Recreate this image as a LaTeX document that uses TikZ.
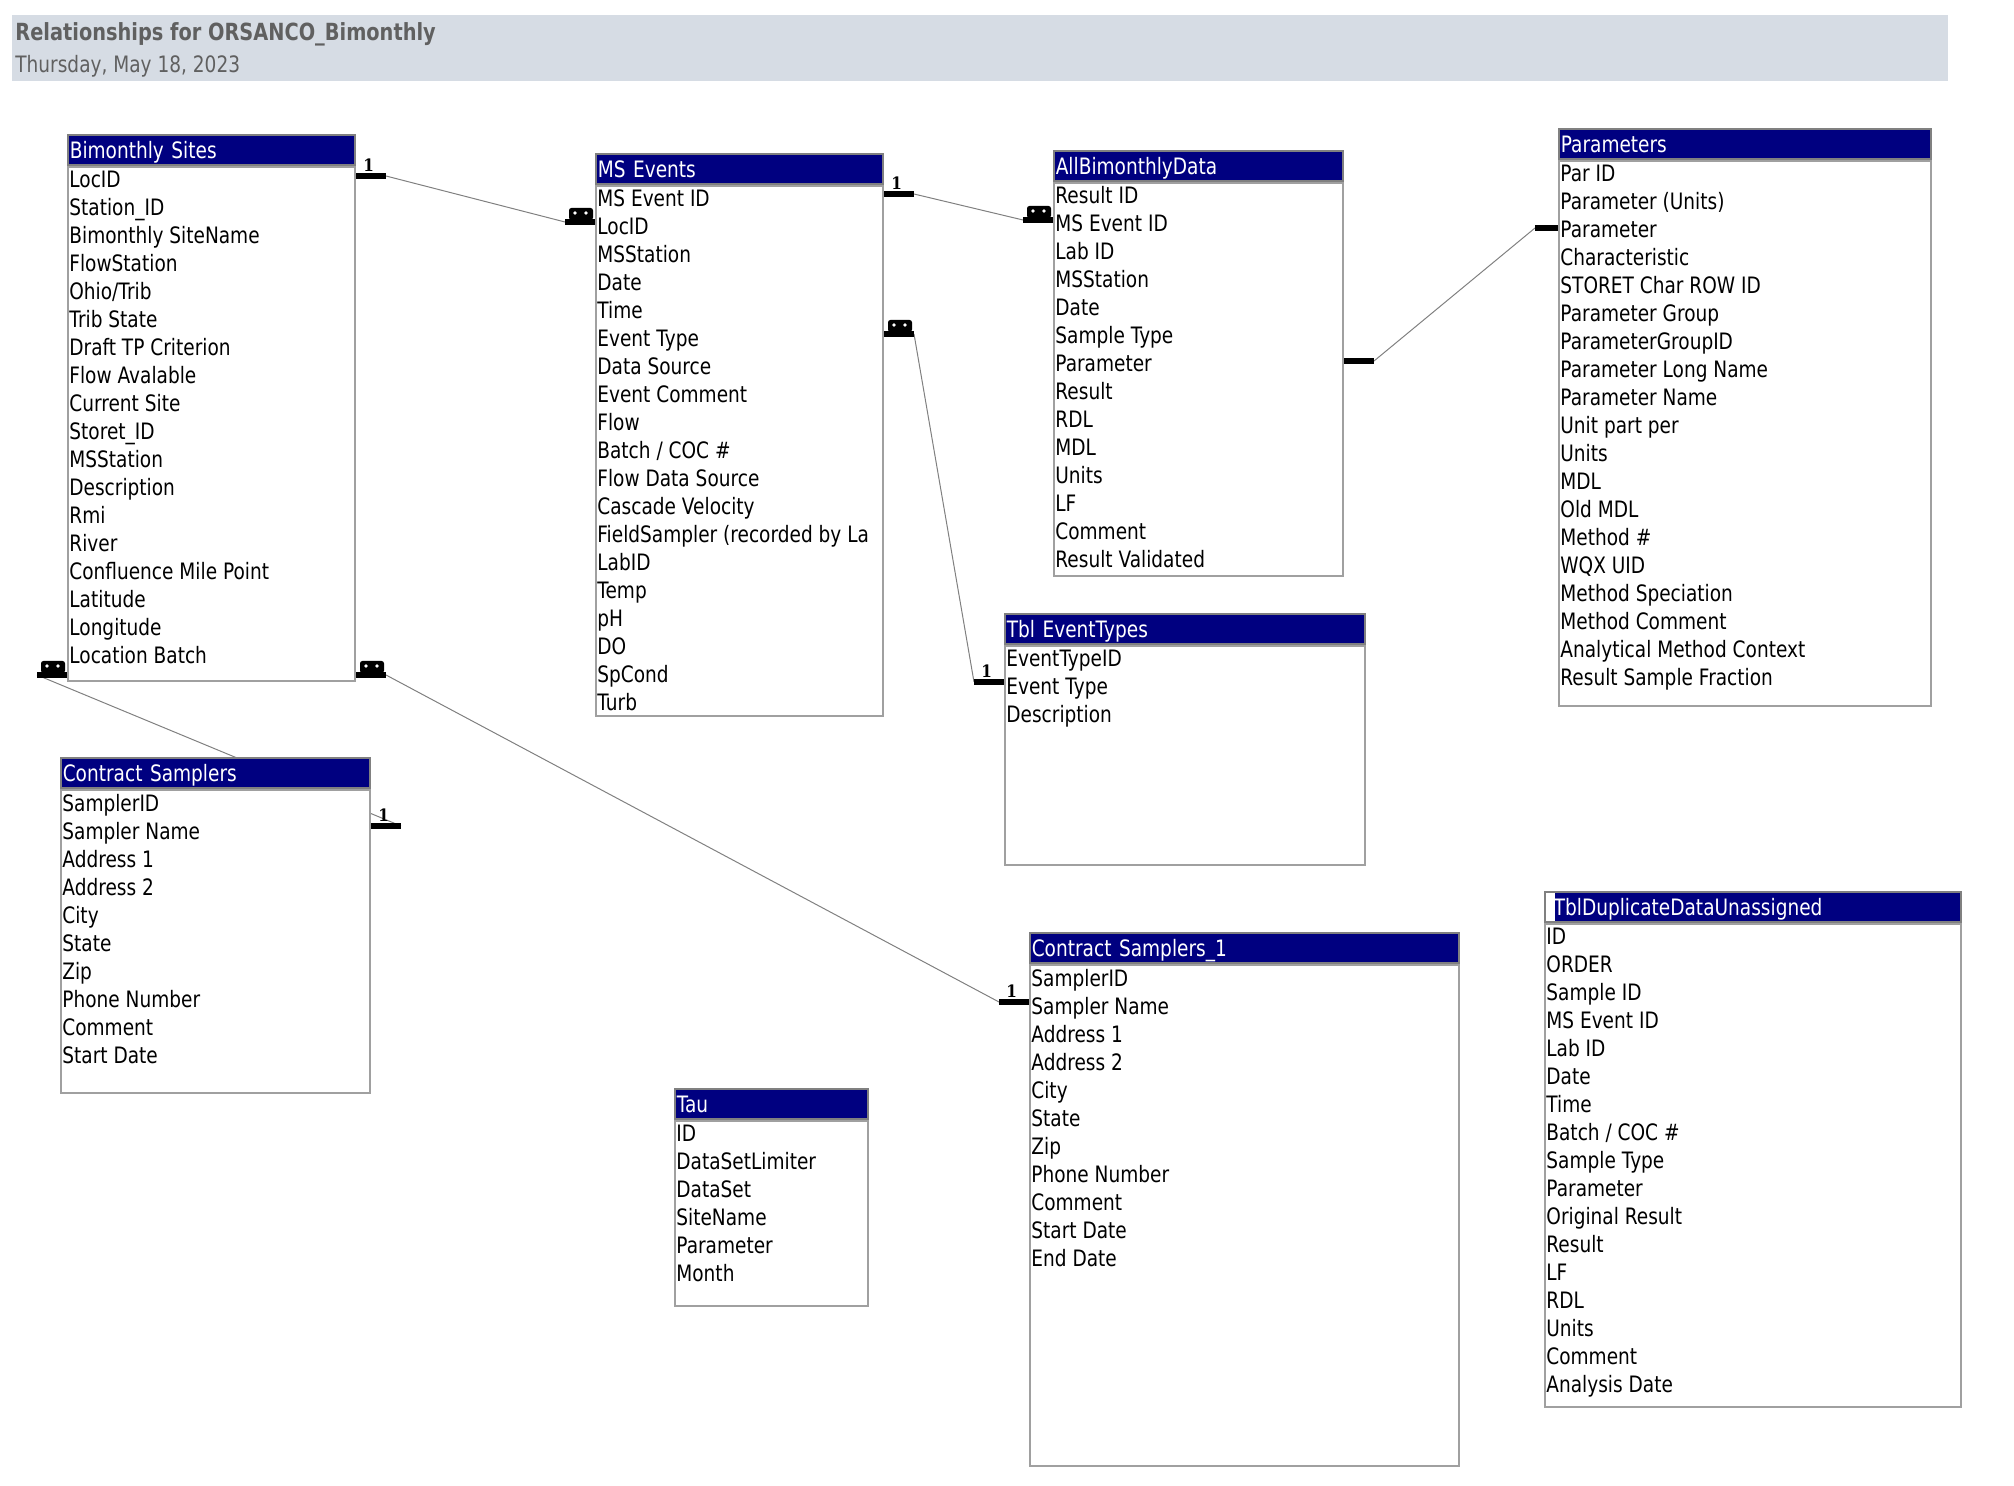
\documentclass[tikz,border=0pt]{standalone}
\usepackage{fontspec}
\setmainfont{DejaVu Sans}[FakeStretch=0.82]
\newfontfamily\onefont{DejaVu Serif}[FakeStretch=0.9]
\usetikzlibrary{positioning,backgrounds}
\definecolor{accnavy}{HTML}{000080}
\definecolor{bandgray}{HTML}{D6DCE4}
\definecolor{titlegray}{HTML}{606060}
\definecolor{framegray}{HTML}{A0A0A0}
\definecolor{linegray}{HTML}{808080}
\newcommand\fieldfont{\fontsize{11.3}{14}\selectfont}

\begin{document}
\begin{tikzpicture}[x=0.5pt,y=-0.5pt,
  hdr/.style={draw=gray,line width=0.8pt,fill=accnavy,text=white,anchor=north west,
    inner xsep=1pt,inner ysep=0pt,minimum height=15pt,text width=#1,align=left,
    text height=9.6pt,text depth=0.8pt,font=\fieldfont},
  body/.style 2 args={draw=framegray,line width=1pt,fill=white,inner sep=0pt,
    minimum width=#1,minimum height=#2},
  fields/.style={inner sep=0pt,align=left,font=\fieldfont,execute at begin node=\strut},
  stub/.style={line width=2.75pt},
  rel/.style={draw=linegray,line width=0.5pt},
  onelbl/.style={inner sep=0pt,font=\onefont\bfseries\fontsize{8.5}{8.5}\selectfont},
  many/.pic={
    \fill[rounded corners=1.2pt] (-11,-14) rectangle (13,-2);
    \fill[white] (-5,-9) circle (0.9pt) (6,-9) circle (0.9pt);
  }
]
\useasboundingbox (0,0) rectangle (2014,1486);

% title band
\fill[bandgray] (12,15) rectangle (1948,81);
\node[anchor=base west,inner sep=0pt,text=titlegray,font=\fontsize{11.8}{14}\selectfont\bfseries] (title) at (15,41) {Relationships for ORSANCO\_Bimonthly};
\node[anchor=base west,inner sep=0pt,text=titlegray,font=\fieldfont] (date) at (15,73) {Thursday, May 18, 2023};

% tables
\node[hdr=141.5pt] (bshdr) at (67,134) {Bimonthly Sites};
\node[body={143.5pt}{257pt},below right=0pt and 0pt of bshdr.south west] (bsbody) {};
\node[fields,below right=2.6pt and 1pt of bsbody.north west] (bsf) {LocID\\Station\_ID\\Bimonthly SiteName\\FlowStation\\Ohio/Trib\\Trib State\\Draft TP Criterion\\Flow Avalable\\Current Site\\Storet\_ID\\MSStation\\Description\\Rmi\\River\\Confluence Mile Point\\Latitude\\Longitude\\Location Batch};

\node[hdr=141.5pt] (mshdr) at (595,153) {MS Events};
\node[body={143.5pt}{265pt},below right=0pt and 0pt of mshdr.south west] (msbody) {};
\node[fields,below right=2.4pt and 1pt of msbody.north west] (msf) {MS Event ID\\LocID\\MSStation\\Date\\Time\\Event Type\\Data Source\\Event Comment\\Flow\\Batch / COC \#\\Flow Data Source\\Cascade Velocity\\FieldSampler (recorded by La\\LabID\\Temp\\pH\\DO\\SpCond\\Turb};

\node[hdr=142.5pt] (abdhdr) at (1053,150) {AllBimonthlyData};
\node[body={144.5pt}{196.5pt},below right=0pt and 0pt of abdhdr.south west] (abdbody) {};
\node[fields,below right=2.4pt and 1pt of abdbody.north west] (abdf) {Result ID\\MS Event ID\\Lab ID\\MSStation\\Date\\Sample Type\\Parameter\\Result\\RDL\\MDL\\Units\\LF\\Comment\\Result Validated};

\node[hdr=184pt] (parhdr) at (1558,128) {Parameters};
\node[body={186pt}{272.5pt},below right=0pt and 0pt of parhdr.south west] (parbody) {};
\node[fields,below right=2.4pt and 1pt of parbody.north west] (parf) {Par ID\\Parameter (Units)\\Parameter\\Characteristic\\STORET Char ROW ID\\Parameter Group\\ParameterGroupID\\Parameter Long Name\\Parameter Name\\Unit part per\\Units\\MDL\\Old MDL\\Method \#\\WQX UID\\Method Speciation\\Method Comment\\Analytical Method Context\\Result Sample Fraction};

\node[hdr=178pt] (ethdr) at (1004,613) {Tbl EventTypes};
\node[body={180pt}{109.5pt},below right=0pt and 0pt of ethdr.south west] (etbody) {};
\node[fields,below right=2.4pt and 1pt of etbody.north west] (etf) {EventTypeID\\Event Type\\Description};

\node[hdr=152.5pt] (cshdr) at (60,757) {Contract Samplers};
\node[body={154.5pt}{151.5pt},below right=0pt and 0pt of cshdr.south west] (csbody) {};
\node[fields,below right=2.6pt and 1pt of csbody.north west] (csf) {SamplerID\\Sampler Name\\Address 1\\Address 2\\City\\State\\Zip\\Phone Number\\Comment\\Start Date};

\node[hdr=212.5pt] (cs1hdr) at (1029,932) {Contract Samplers\_1};
\node[body={214.5pt}{250.5pt},below right=0pt and 0pt of cs1hdr.south west] (cs1body) {};
\node[fields,below right=2.6pt and 1pt of cs1body.north west] (cs1f) {SamplerID\\Sampler Name\\Address 1\\Address 2\\City\\State\\Zip\\Phone Number\\Comment\\Start Date\\End Date};

\node[hdr=94.5pt] (tauhdr) at (674,1088) {Tau};
\node[body={96.5pt}{92.5pt},below right=0pt and 0pt of tauhdr.south west] (taubody) {};
\node[fields,below right=2.6pt and 1pt of taubody.north west] (tauf) {ID\\DataSetLimiter\\DataSet\\SiteName\\Parameter\\Month};

\fill[accnavy] (1555,891) rectangle (1960,921);
\node[hdr=199pt,fill=none,inner xsep=4.5pt] (duphdr) at (1544,891) {TblDuplicateDataUnassigned};
\node[body={208pt}{241.5pt},below right=0pt and 0pt of duphdr.south west] (dupbody) {};
\node[fields,below right=2.4pt and 1pt of dupbody.north west] (dupf) {ID\\ORDER\\Sample ID\\MS Event ID\\Lab ID\\Date\\Time\\Batch / COC \#\\Sample Type\\Parameter\\Original Result\\Result\\LF\\RDL\\Units\\Comment\\Analysis Date};

% relationship stubs
\coordinate (bsR) at (bsbody.east |- 0,176);   \coordinate (bsRe) at ([xshift=15pt]bsR);
\coordinate (msL) at (msbody.west |- 0,222);   \coordinate (msLe) at ([xshift=-15pt]msL);
\coordinate (msR) at (msbody.east |- 0,194);   \coordinate (msRe) at ([xshift=15pt]msR);
\coordinate (abdL) at (abdbody.west |- 0,220); \coordinate (abdLe) at ([xshift=-15pt]abdL);
\coordinate (msR2) at (msbody.east |- 0,334);  \coordinate (msR2e) at ([xshift=15pt]msR2);
\coordinate (etL) at (etbody.west |- 0,682);   \coordinate (etLe) at ([xshift=-15pt]etL);
\coordinate (abdR) at (abdbody.east |- 0,361); \coordinate (abdRe) at ([xshift=15pt]abdR);
\coordinate (parL) at (parbody.west |- 0,228); \coordinate (parLe) at ([xshift=-11.5pt]parL);
\coordinate (bsL) at (bsbody.west |- 0,675);   \coordinate (bsLe) at ([xshift=-15pt]bsL);
\coordinate (csR) at (csbody.east |- 0,826);   \coordinate (csRe) at ([xshift=15pt]csR);
\coordinate (bsR2) at (bsbody.east |- 0,675);  \coordinate (bsR2e) at ([xshift=15pt]bsR2);
\coordinate (cs1L) at (cs1body.west |- 0,1002); \coordinate (cs1Le) at ([xshift=-15pt]cs1L);

\draw[stub] (bsR) -- (bsRe) (msL) -- (msLe) (msR) -- (msRe) (abdL) -- (abdLe)
  (msR2) -- (msR2e) (etL) -- (etLe) (abdR) -- (abdRe) (parL) -- (parLe)
  (bsL) -- (bsLe) (csR) -- (csRe) (bsR2) -- (bsR2e) (cs1L) -- (cs1Le);

\node[onelbl,above right=2pt and 3.5pt of bsR] (bsone) {1};
\node[onelbl,above right=2pt and 3.5pt of msR] (msone) {1};
\node[onelbl,above right=2pt and 3.5pt of etLe] (etone) {1};
\node[onelbl,above right=2pt and 3.5pt of csR] (csone) {1};
\node[onelbl,above right=2pt and 3.5pt of cs1Le] (cs1one) {1};

\pic at ([xshift=-7.5pt]msL) {many};
\pic at ([xshift=-7.5pt]abdL) {many};
\pic at ([xshift=7.5pt]msR2) {many};
\pic at ([xshift=-7.5pt]bsL) {many};
\pic at ([xshift=7.5pt]bsR2) {many};

% connectors
\begin{scope}[on background layer]
  \draw[rel] (bsRe) -- (msLe);
  \draw[rel] (msRe) -- (abdLe);
  \draw[rel] (msR2e) -- (etLe);
  \draw[rel] (abdRe) -- (parLe);
  \draw[rel] (bsLe) -- (csRe);
  \draw[rel] (bsR2e) -- (cs1Le);
\end{scope}
\end{tikzpicture}
\end{document}
